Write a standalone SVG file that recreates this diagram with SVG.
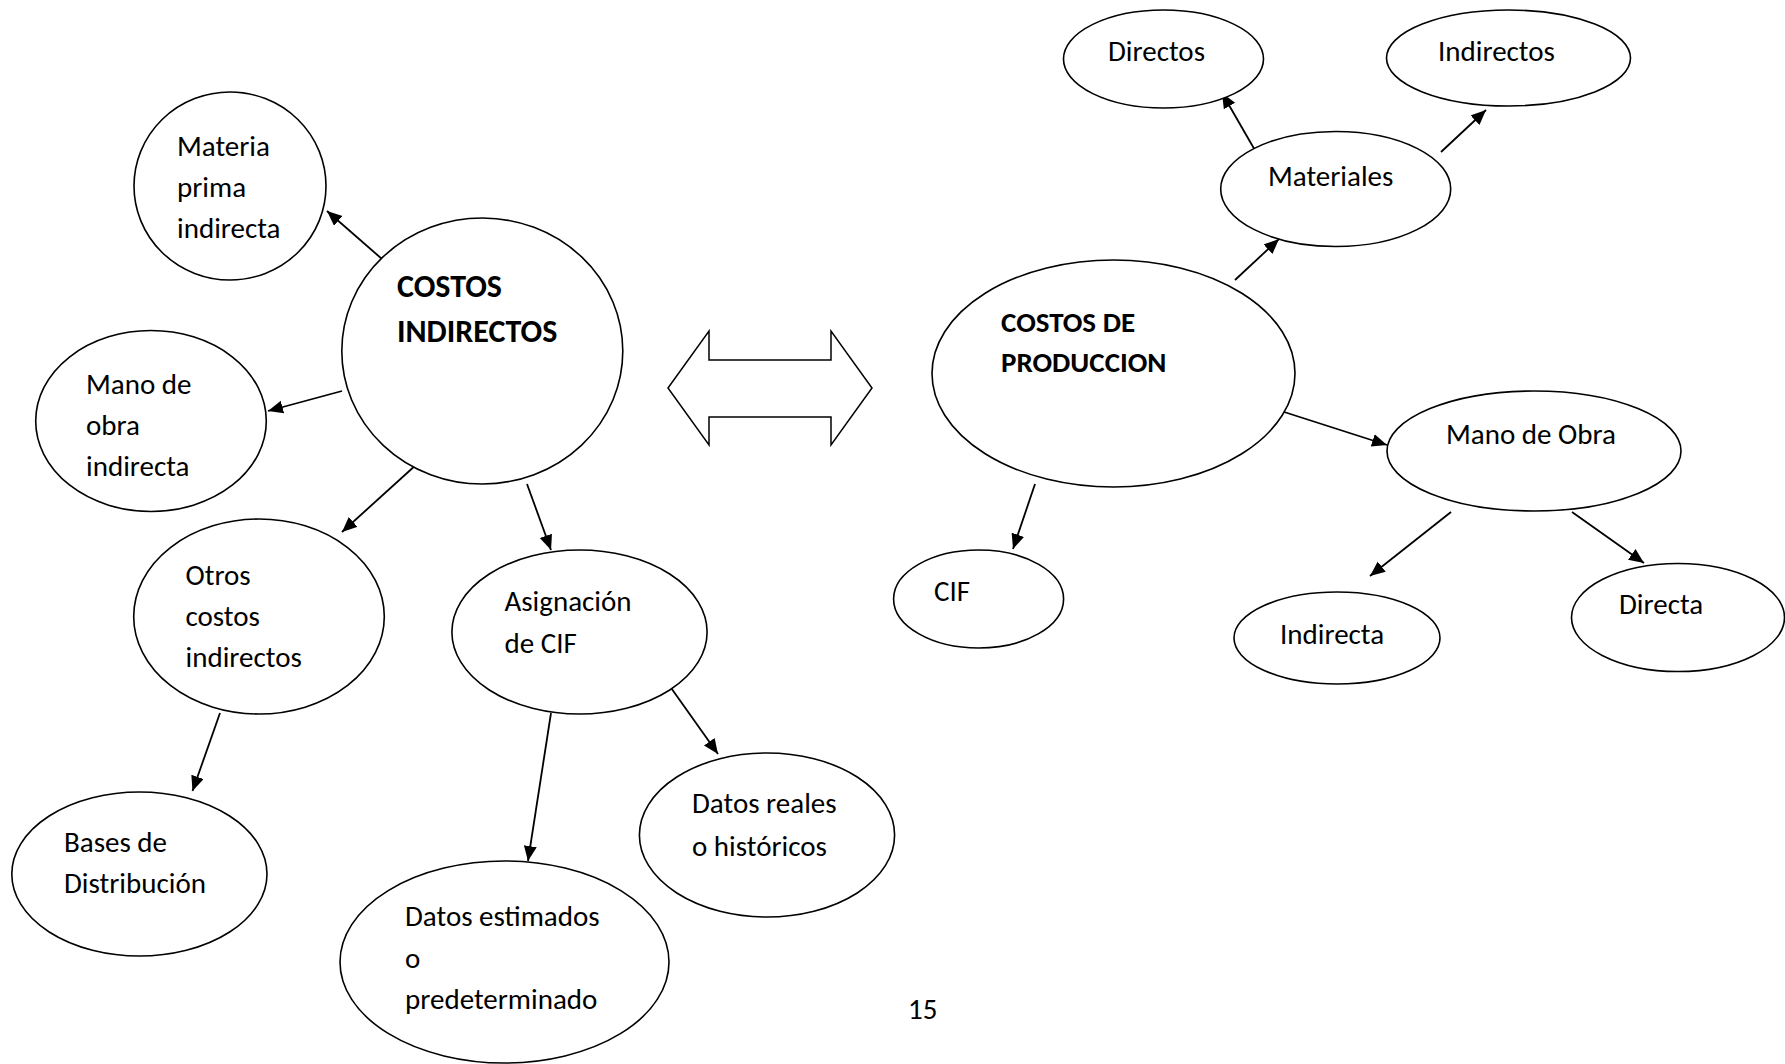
<svg xmlns="http://www.w3.org/2000/svg" width="1785" height="1064" viewBox="0 0 1785 1064">
  <style>
    .node ellipse { fill: #ffffff; stroke: #000000; stroke-width: 1.6; }
    .node text { font-family: Carlito, "Liberation Sans", Arial, sans-serif; font-size: 29px; fill: #000000; }
    .node text.title { font-weight: bold; font-size: 32px; }
    .node text.title2 { font-weight: bold; font-size: 29px; }
    .edges line { stroke: #000000; stroke-width: 1.8; fill: none; marker-end: url(#arrow); }
    .bigarrow { fill: #ffffff; stroke: #000000; stroke-width: 1.5; stroke-linejoin: miter; }
    .pagenum { font-family: Carlito, "Liberation Sans", Arial, sans-serif; font-size: 29px; fill: #000000; }
  </style>
  <defs>
    <marker id="arrow" markerUnits="userSpaceOnUse" markerWidth="16" markerHeight="14" refX="15" refY="6.5" orient="auto">
      <path d="M0,0 L15,6.5 L0,13 z" fill="#000000"/>
    </marker>
  </defs>

  <rect width="1785" height="1064" fill="#ffffff"/>

  <!-- connectors -->
  <g id="connectors" class="edges">
    <line x1="382" y1="259" x2="327" y2="211"/>
    <line x1="342" y1="391" x2="268" y2="411"/>
    <line x1="417" y1="464" x2="342" y2="532"/>
    <line x1="527" y1="484" x2="551" y2="550"/>
    <line x1="220" y1="713" x2="192.5" y2="791"/>
    <line x1="551" y1="713" x2="528" y2="861"/>
    <line x1="669" y1="685" x2="718" y2="754"/>
    <line x1="1235" y1="280" x2="1279" y2="239"/>
    <line x1="1256" y1="152" x2="1222" y2="93"/>
    <line x1="1441" y1="152" x2="1486" y2="110"/>
    <line x1="1281" y1="411" x2="1387" y2="445"/>
    <line x1="1035" y1="484" x2="1013" y2="549"/>
    <line x1="1451" y1="512" x2="1370" y2="576"/>
    <line x1="1572" y1="512" x2="1644" y2="563"/>
  </g>

  <!-- double-headed block arrow between the two maps -->
  <g id="double-arrow">
    <polygon class="bigarrow" points="668,388 709,331 709,360 831,360 831,331 872,388 831,445 831,417 709,417 709,445"/>
  </g>

  <!-- left map -->
  <g id="materia-prima" class="node">
    <ellipse cx="230" cy="186" rx="96" ry="94"/>
    <text x="177" y="156">Materia</text>
    <text x="177" y="197">prima</text>
    <text x="177" y="238">indirecta</text>
  </g>
  <g id="costos-indirectos" class="node">
    <ellipse cx="482.3" cy="351" rx="140.5" ry="133"/>
    <text class="title" x="397" y="297">COSTOS</text>
    <text class="title" x="397" y="342">INDIRECTOS</text>
  </g>
  <g id="mano-obra-indirecta" class="node">
    <ellipse cx="151" cy="421" rx="115.3" ry="90.5"/>
    <text x="86" y="394">Mano de</text>
    <text x="86" y="435">obra</text>
    <text x="86" y="476">indirecta</text>
  </g>
  <g id="otros-costos" class="node">
    <ellipse cx="259" cy="616.5" rx="125.3" ry="97.5"/>
    <text x="185.5" y="585">Otros</text>
    <text x="185.5" y="626">costos</text>
    <text x="185.5" y="667">indirectos</text>
  </g>
  <g id="asignacion-cif" class="node">
    <ellipse cx="579.5" cy="632" rx="127.6" ry="82"/>
    <text x="504.5" y="611">Asignación</text>
    <text x="504.5" y="653">de CIF</text>
  </g>
  <g id="bases-distribucion" class="node">
    <ellipse cx="139.4" cy="874" rx="127.6" ry="82"/>
    <text x="64" y="852">Bases de</text>
    <text x="64" y="893">Distribución</text>
  </g>
  <g id="datos-estimados" class="node">
    <ellipse cx="504.5" cy="962" rx="164.5" ry="101"/>
    <text x="405" y="926">Datos estimados</text>
    <text x="405" y="968">o</text>
    <text x="405" y="1009">predeterminado</text>
  </g>
  <g id="datos-reales" class="node">
    <ellipse cx="767" cy="835" rx="127.6" ry="82"/>
    <text x="692" y="813">Datos reales</text>
    <text x="692" y="856">o históricos</text>
  </g>

  <!-- right map -->
  <g id="directos" class="node">
    <ellipse cx="1163.5" cy="59" rx="100" ry="49"/>
    <text x="1108" y="61">Directos</text>
  </g>
  <g id="indirectos" class="node">
    <ellipse cx="1508.5" cy="58" rx="122" ry="48"/>
    <text x="1438" y="61">Indirectos</text>
  </g>
  <g id="materiales" class="node">
    <ellipse cx="1335.7" cy="189" rx="115" ry="57.5"/>
    <text x="1268" y="186">Materiales</text>
  </g>
  <g id="costos-produccion" class="node">
    <ellipse cx="1113.5" cy="373.5" rx="181.5" ry="113.5"/>
    <text class="title2" x="1001" y="332">COSTOS DE</text>
    <text class="title2" x="1001" y="372">PRODUCCION</text>
  </g>
  <g id="mano-de-obra" class="node">
    <ellipse cx="1534" cy="451" rx="147" ry="60"/>
    <text x="1446" y="444">Mano de Obra</text>
  </g>
  <g id="cif" class="node">
    <ellipse cx="978.6" cy="599" rx="85" ry="49"/>
    <text x="934" y="601">CIF</text>
  </g>
  <g id="indirecta" class="node">
    <ellipse cx="1337" cy="638" rx="103" ry="46"/>
    <text x="1280" y="644">Indirecta</text>
  </g>
  <g id="directa" class="node">
    <ellipse cx="1678" cy="617.5" rx="106.5" ry="54"/>
    <text x="1619" y="614">Directa</text>
  </g>

  <!-- page number -->
  <text class="pagenum" x="908" y="1019">15</text>
</svg>
